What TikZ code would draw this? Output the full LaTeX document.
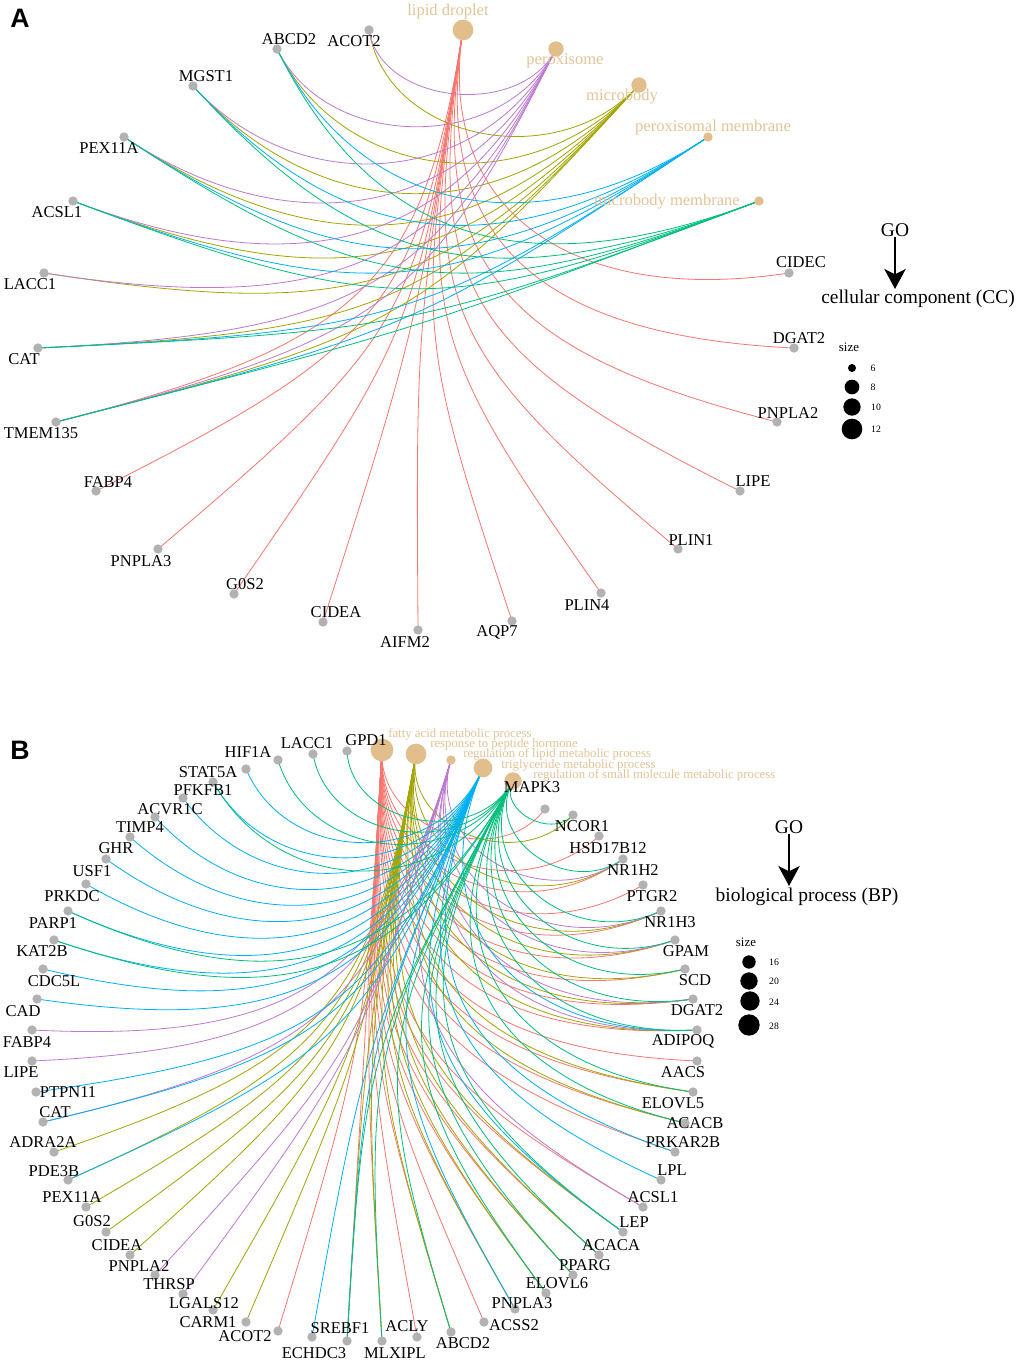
\documentclass[tikz,border=0pt]{standalone}
\usepackage{fontspec}
\setmainfont{Liberation Serif}
\newfontfamily\lsans{Liberation Sans}
\usetikzlibrary{arrows.meta}
\pgfdeclarelayer{background}
\pgfdeclarelayer{bottom}
\pgfsetlayers{bottom,background,main}
\definecolor{cR}{HTML}{F8766D}
\definecolor{cO}{HTML}{A3A500}
\definecolor{cG}{HTML}{00BF7D}
\definecolor{cB}{HTML}{00B0F6}
\definecolor{cP}{RGB}{190,120,210}
\definecolor{tandot}{RGB}{226,190,140}
\definecolor{tanlab}{RGB}{228,196,150}
\definecolor{gdotc}{RGB}{178,178,178}
\newcommand\defpt[3]{\expandafter\xdef\csname PX@#1\endcsname{#2}\expandafter\xdef\csname PY@#1\endcsname{#3}}
\newcommand\setpanel[4]{\xdef\pcx{#1}\xdef\pcy{#2}\xdef\prx{#3}\xdef\pry{#4}}
\newcommand\cedge[3]{%
 \edef\eXa{\csname PX@#2\endcsname}\edef\eYa{\csname PY@#2\endcsname}%
 \edef\eXb{\csname PX@#3\endcsname}\edef\eYb{\csname PY@#3\endcsname}%
 \pgfmathsetmacro\eU{(\eXa-\eXb)/\prx}%
 \pgfmathsetmacro\eV{(\eYa-\eYb)/\pry}%
 \pgfmathsetmacro\eF{min(1,0.5*sqrt(\eU*\eU+\eV*\eV))}%
 \pgfmathsetmacro\eCax{\eXa+\eF*(\pcx-\eXa)}%
 \pgfmathsetmacro\eCay{\eYa+\eF*(\pcy-\eYa)}%
 \pgfmathsetmacro\eCbx{\eXb+\eF*(\pcx-\eXb)}%
 \pgfmathsetmacro\eCby{\eYb+\eF*(\pcy-\eYb)}%
 \begin{pgfonlayer}{background}
 \draw[lnk,#1] (#2.center) .. controls (\eCax,\eCay) and (\eCbx,\eCby) .. (#3.center);
 \end{pgfonlayer}}
\newcommand\gene[6]{\defpt{#1}{#2}{#3}%
 \node[gdot] (#1) at (#2,#3) {};
 \node[glab] (#1-lab) at (#5,#6) {#4};}
\newcommand\catA[7]{\defpt{#1}{#2}{#3}%
 \node[cdot,minimum size=#4] (#1) at (#2,#3) {};
 \node[glab,text=tanlab] (#1-lab) at (#6,#7) {#5};}
\newcommand\catB[7]{\defpt{#1}{#2}{#3}%
 \node[cdot,minimum size=#4] (#1) at (#2,#3) {};
 \node[blab,anchor=west] (#1-lab) at (#6,#7) {#5};}
\tikzset{
 lnk/.style={line width=0.6pt},
 gdot/.style={circle,fill=gdotc,inner sep=0pt,minimum size=7pt},
 cdot/.style={circle,fill=tandot,inner sep=0pt},
 glab/.style={font=\fontsize{12.4}{14}\selectfont,inner sep=0pt},
 blab/.style={font=\fontsize{9.6}{11}\selectfont,inner sep=0pt,text=tanlab},
 golab/.style={font=\fontsize{14.6}{16}\selectfont,inner sep=0pt},
 sizelab/.style={font=\fontsize{9.7}{11}\selectfont,inner sep=0pt},
 numlab/.style={font=\fontsize{7.3}{8}\selectfont,inner sep=0pt},
 ldot/.style={circle,fill=black,inner sep=0pt},
 bigarrow/.style={line width=1.9pt,-{Stealth[length=15pt,width=16pt,inset=4pt]}},
 panlab/.style={font=\lsans\bfseries\fontsize{20}{20}\selectfont,inner sep=0pt}
}
\begin{document}
\begin{tikzpicture}[x=0.75pt,y=-0.75pt]
\begin{pgfonlayer}{bottom}
\path[use as bounding box,fill=white] (0,0) rectangle (1020,1362);
\end{pgfonlayer}
% ================= Panel A =================
\node[panlab] (letA) at (20,18) {A};
\setpanel{416}{330}{378}{300}
\catA{aLD}{463}{30}{15.5pt}{lipid droplet}{448}{12}
\catA{aPX}{556}{49}{11.5pt}{peroxisome}{565}{61}
\catA{aMB}{639}{85}{11.5pt}{microbody}{622}{97}
\catA{aPM}{708}{137}{7pt}{peroxisomal membrane}{713}{128}
\catA{aMM}{759}{201}{7pt}{microbody membrane}{667}{202}
\gene{aACOT2}{369}{30}{ACOT2}{354}{41}
\gene{aABCD2}{277}{49}{ABCD2}{289}{39}
\gene{aMGST1}{193}{86}{MGST1}{206}{76}
\gene{aPEX11A}{124}{137}{PEX11A}{109}{148}
\gene{aACSL1}{73}{201}{ACSL1}{57}{212}
\gene{aLACC1}{44}{273}{LACC1}{30}{284}
\gene{aCAT}{38}{348}{CAT}{24}{359}
\gene{aTMEM135}{56}{422}{TMEM135}{41}{433}
\gene{aFABP4}{96}{491}{FABP4}{108}{482}
\gene{aPNPLA3}{158}{549}{PNPLA3}{141}{561}
\gene{aG0S2}{234}{594}{G0S2}{245}{584}
\gene{aCIDEA}{323}{622}{CIDEA}{336}{612}
\gene{aAIFM2}{418}{630}{AIFM2}{405}{642}
\gene{aAQP7}{512}{621}{AQP7}{497}{632}
\gene{aPLIN4}{601}{593}{PLIN4}{587}{605}
\gene{aPLIN1}{678}{549}{PLIN1}{691}{540}
\gene{aLIPE}{740}{491}{LIPE}{753}{481}
\gene{aPNPLA2}{777}{422}{PNPLA2}{788}{413}
\gene{aDGAT2}{794}{348}{DGAT2}{799}{338}
\gene{aCIDEC}{789}{273}{CIDEC}{801}{262}
\foreach \g in {aTMEM135,aFABP4,aPNPLA3,aG0S2,aCIDEA,aAIFM2,aAQP7,aPLIN4,aPLIN1,aLIPE,aPNPLA2,aDGAT2,aCIDEC} {\cedge{cR}{aLD}{\g}}
\foreach \g in {aACOT2,aABCD2,aMGST1,aPEX11A,aACSL1,aLACC1,aCAT,aTMEM135} {\cedge{cO}{aMB}{\g}}
\foreach \g in {aACOT2,aABCD2,aMGST1,aPEX11A,aACSL1,aLACC1,aCAT,aTMEM135} {\cedge{cP}{aPX}{\g}}
\foreach \g in {aABCD2,aMGST1,aPEX11A,aACSL1,aCAT,aTMEM135} {\cedge{cB}{aPM}{\g}}
\foreach \g in {aABCD2,aMGST1,aPEX11A,aACSL1,aCAT,aTMEM135} {\cedge{cG}{aMM}{\g}}
% legend A
\node[golab] (goA) at (895,230) {GO};
\coordinate (arAe) at (895,289);
\draw[bigarrow] (goA) -- (arAe);
\node[golab] (ccA) at (918,299) {cellular component (CC)};
\node[sizelab] (sizeA) at (849,347) {size};
\node[ldot,minimum size=6pt] (lA1) at (852,368) {};
\node[ldot,minimum size=11pt] (lA2) at (852,387) {};
\node[ldot,minimum size=13pt] (lA3) at (852,407) {};
\node[ldot,minimum size=15.5pt] (lA4) at (852,429) {};
\node[numlab] (nA1) at (873,368) {6};
\node[numlab] (nA2) at (873,387) {8};
\node[numlab] (nA3) at (876,407) {10};
\node[numlab] (nA4) at (876,429) {12};
% ================= Panel B =================
\node[panlab] (letB) at (20,750) {B};
\setpanel{364.5}{1046}{332.5}{295}
\catB{bFA}{382}{750}{17pt}{fatty acid metabolic process}{388}{734}
\catB{bRP}{416}{754}{15.5pt}{response to peptide hormone}{430}{744}
\catB{bRL}{451}{760}{7pt}{regulation of lipid metabolic process}{463}{754}
\catB{bTG}{483}{768}{14pt}{triglyceride metabolic process}{501}{765}
\catB{bRS}{513}{781}{13pt}{regulation of small molecule metabolic process}{533}{775}
\gene{bHIF1A}{278}{760}{HIF1A}{248}{752}
\gene{bLACC1}{313}{754}{LACC1}{307}{743}
\gene{bGPD1}{347}{751}{GPD1}{366}{740}
\gene{bSTAT5A}{246}{769}{STAT5A}{208}{772}
\gene{bPFKFB1}{213}{782}{PFKFB1}{203}{790}
\gene{bACVR1C}{183}{798}{ACVR1C}{170}{809}
\gene{bTIMP4}{155}{817}{TIMP4}{140}{827}
\gene{bGHR}{130}{837}{GHR}{116}{848}
\gene{bUSF1}{106}{859}{USF1}{92}{871}
\gene{bPRKDC}{86}{884}{PRKDC}{72}{896}
\gene{bPARP1}{68}{911}{PARP1}{53}{923}
\gene{bKAT2B}{54}{940}{KAT2B}{42}{951}
\gene{bCDC5L}{43}{969}{CDC5L}{54}{981}
\gene{bCAD}{37}{999}{CAD}{23}{1011}
\gene{bFABP4}{32}{1030}{FABP4}{27}{1042}
\gene{bLIPE}{32}{1061}{LIPE}{21}{1072}
\gene{bPTPN11}{36}{1092}{PTPN11}{68}{1092}
\gene{bCAT}{43}{1122}{CAT}{55}{1112}
\gene{bADRA2A}{54}{1152}{ADRA2A}{43}{1142}
\gene{bPDE3B}{68}{1180}{PDE3B}{54}{1171}
\gene{bPEX11A}{86}{1207}{PEX11A}{72}{1197}
\gene{bG0S2}{106}{1232}{G0S2}{92}{1221}
\gene{bCIDEA}{130}{1255}{CIDEA}{117}{1245}
\gene{bPNPLA2}{155}{1275}{PNPLA2}{139}{1266}
\gene{bTHRSP}{183}{1294}{THRSP}{169}{1284}
\gene{bLGALS12}{213}{1310}{LGALS12}{204}{1303}
\gene{bCARM1}{246}{1322}{CARM1}{208}{1322}
\gene{bACOT2}{278}{1331}{ACOT2}{245}{1336}
\gene{bECHDC3}{312}{1337}{ECHDC3}{314}{1353}
\gene{bSREBF1}{347}{1341}{SREBF1}{340}{1328}
\gene{bMLXIPL}{382}{1341}{MLXIPL}{395}{1353}
\gene{bACLY}{417}{1337}{ACLY}{407}{1326}
\gene{bABCD2}{451}{1332}{ABCD2}{463}{1343}
\gene{bACSS2}{484}{1322}{ACSS2}{514}{1325}
\gene{bPNPLA3}{515}{1309}{PNPLA3}{522}{1303}
\gene{bELOVL6}{546}{1293}{ELOVL6}{557}{1283}
\gene{bPPARG}{573}{1275}{PPARG}{585}{1265}
\gene{bACACA}{599}{1255}{ACACA}{611}{1245}
\gene{bLEP}{623}{1232}{LEP}{634}{1222}
\gene{bACSL1}{643}{1207}{ACSL1}{653}{1197}
\gene{bLPL}{661}{1180}{LPL}{672}{1170}
\gene{bPRKAR2B}{675}{1152}{PRKAR2B}{683}{1142}
\gene{bACACB}{685}{1123}{ACACB}{695}{1123}
\gene{bELOVL5}{693}{1092}{ELOVL5}{673}{1103}
\gene{bAACS}{697}{1061}{AACS}{683}{1072}
\gene{bADIPOQ}{697}{1030}{ADIPOQ}{683}{1041}
\gene{bDGAT2}{693}{999}{DGAT2}{697}{1010}
\gene{bSCD}{685}{969}{SCD}{695}{980}
\gene{bGPAM}{675}{940}{GPAM}{686}{951}
\gene{bNR1H3}{661}{911}{NR1H3}{670}{922}
\gene{bPTGR2}{643}{885}{PTGR2}{652}{896}
\gene{bNR1H2}{623}{859}{NR1H2}{633}{870}
\gene{bHSD17B12}{599}{836}{HSD17B12}{608}{848}
\gene{bNCOR1}{573}{815}{NCOR1}{582}{826}
\gene{bMAPK3}{545}{809}{MAPK3}{532}{787}
\foreach \g in {bACOT2,bACLY,bACSS2,bABCD2,bELOVL6,bPPARG,bACACA,bLEP,bACSL1,bPRKAR2B,bACACB,bELOVL5,bAACS,bADIPOQ,bDGAT2,bSCD,bGPAM,bNR1H3,bPTGR2,bNR1H2,bHSD17B12,bMAPK3,bMLXIPL,bSREBF1,bPNPLA3} {\cedge{cR}{bFA}{\g}}
\foreach \g in {bADRA2A,bPDE3B,bPEX11A,bG0S2,bCIDEA,bLGALS12,bCARM1,bNCOR1,bNR1H2,bNR1H3,bSCD,bADIPOQ,bACACB,bELOVL5,bACACA,bPPARG,bLEP,bGPAM,bMLXIPL,bABCD2,bELOVL6,bPNPLA3,bSREBF1,bDGAT2} {\cedge{cO}{bRP}{\g}}
\foreach \g in {bFABP4,bLIPE,bCAT,bTHRSP,bPNPLA2,bACSL1,bDGAT2,bGPAM,bNR1H3,bNR1H2,bADIPOQ} {\cedge{cP}{bRL}{\g}}
\foreach \g in {bSTAT5A,bACVR1C,bTIMP4,bGHR,bUSF1,bPRKDC,bPARP1,bKAT2B,bCDC5L,bCAD,bPTPN11,bCAT,bPDE3B,bECHDC3,bPNPLA3,bLPL,bPRKAR2B,bADIPOQ,bPFKFB1,bLEP,bSREBF1} {\cedge{cB}{bTG}{\g}}
\foreach \g in {bHIF1A,bLACC1,bGPD1,bPFKFB1,bPARP1,bKAT2B,bSREBF1,bMLXIPL,bABCD2,bELOVL6,bPPARG,bACACA,bLEP,bACACB,bELOVL5,bADIPOQ,bDGAT2,bSCD,bGPAM,bNR1H3,bNR1H2,bNCOR1} {\cedge{cG}{bRS}{\g}}
% legend B
\node[golab] (goB) at (789,827) {GO};
\coordinate (arBe) at (789,886);
\draw[bigarrow] (goB) -- (arBe);
\node[golab] (bpB) at (807,897) {biological process (BP)};
\node[sizelab] (sizeB) at (746,942) {size};
\node[ldot,minimum size=10pt] (lB1) at (749,962) {};
\node[ldot,minimum size=13pt] (lB2) at (749,981) {};
\node[ldot,minimum size=14.5pt] (lB3) at (750,1001) {};
\node[ldot,minimum size=16pt] (lB4) at (749,1025) {};
\node[numlab] (nB1) at (774,962) {16};
\node[numlab] (nB2) at (774,981) {20};
\node[numlab] (nB3) at (774,1002) {24};
\node[numlab] (nB4) at (774,1026) {28};
\end{tikzpicture}
\end{document}
